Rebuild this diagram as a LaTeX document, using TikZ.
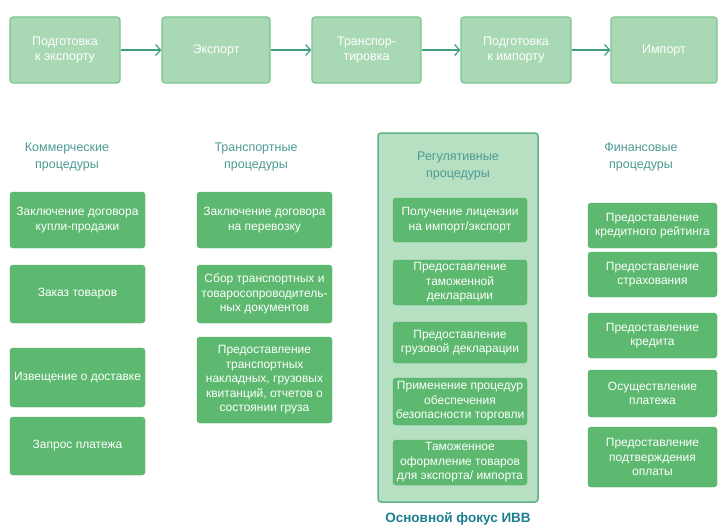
\documentclass[tikz,border=0pt]{standalone}
\usepackage{fontspec}
\setmainfont{Liberation Sans}
\usetikzlibrary{arrows.meta}
\definecolor{topfill}{HTML}{A9D9B4}
\definecolor{topdraw}{HTML}{7CC492}
\definecolor{boxfill}{HTML}{5CB96F}
\definecolor{boxdraw}{HTML}{58B06B}
\definecolor{regfill}{HTML}{B7E0C2}
\definecolor{regdraw}{HTML}{5FB187}
\definecolor{headtxt}{HTML}{4B9B94}
\definecolor{focustxt}{HTML}{1F7F8F}
\definecolor{arrowcol}{HTML}{3E9E80}
\tikzset{
  topbox/.style={draw=topdraw, line width=1.2pt, fill=topfill, rounded corners=3pt,
    minimum width=110pt, minimum height=66pt, inner sep=0pt, align=center,
    text=white, font=\fontsize{12.5}{15}\selectfont},
  procbox/.style={draw=boxdraw, fill=boxfill, rounded corners=3pt,
    inner sep=0pt, align=center, text=white, font=\fontsize{12}{14.5}\selectfont},
  headtext/.style={align=center, text=headtxt, font=\fontsize{12.5}{17}\selectfont, inner sep=0pt},
  flowarrow/.style={draw=arrowcol, line width=1.2pt, -{Straight Barb[length=5pt,width=11pt]}}
}
\begin{document}
\begin{tikzpicture}[x=1pt,y=-1pt]
\useasboundingbox[fill=white] (0,0) rectangle (718,527);
% top row
\node[topbox] (t1) at (65,50) {Подготовка\\к экспорту};
\node[topbox, minimum width=108pt] (t2) at (216,50) {Экспорт};
\node[topbox, minimum width=109pt] (t3) at (366.5,50) {Транспор-\\тировка};
\node[topbox] (t4) at (516,50) {Подготовка\\к импорту};
\node[topbox, minimum width=106pt] (t5) at (664,50) {Импорт};
\draw[flowarrow] (t1) -- (t2);
\draw[flowarrow] (t2) -- (t3);
\draw[flowarrow] (t3) -- (t4);
\draw[flowarrow] (t4) -- (t5);
% regulatory frame
\node[draw=regdraw, line width=1.5pt, fill=regfill, rounded corners=3pt,
  minimum width=160pt, minimum height=369pt, inner sep=0pt] (reg) at (458,317.5) {};
% headers
\node[headtext] (h1) at (67,156.5) {Коммерческие\\процедуры};
\node[headtext] (h2) at (256,156.5) {Транспортные\\процедуры};
\node[headtext] (h3) at (458,166) {Регулятивные\\процедуры};
\node[headtext] (h4) at (641,156.5) {Финансовые\\процедуры};
% commercial
\node[procbox, minimum width=135pt, minimum height=56pt] (c1) at (77.5,220) {Заключение договора\\купли-продажи};
\node[procbox, minimum width=135pt, minimum height=58pt] (c2) at (77.5,294) {Заказ товаров};
\node[procbox, minimum width=135pt, minimum height=59pt] (c3) at (77.5,377.5) {Извещение о доставке};
\node[procbox, minimum width=135pt, minimum height=58pt] (c4) at (77.5,446) {Запрос платежа};
% transport
\node[procbox, minimum width=135pt, minimum height=56pt] (p1) at (264.5,220) {Заключение договора\\на перевозку};
\node[procbox, minimum width=135pt, minimum height=58pt] (p2) at (264.5,294) {Сбор транспортных и\\товаросопроводитель-\\ных документов};
\node[procbox, minimum width=135pt, minimum height=86pt] (p3) at (264.5,380) {Предоставление\\транспортных\\накладных, грузовых\\квитанций, отчетов о\\состоянии груза};
% regulatory
\node[procbox, minimum width=134pt, minimum height=44pt] (r1) at (460,220) {Получение лицензии\\на импорт/экспорт};
\node[procbox, minimum width=134pt, minimum height=45pt] (r2) at (460,282.5) {Предоставление\\таможенной\\декларации};
\node[procbox, minimum width=134pt, minimum height=41pt] (r3) at (460,342.5) {Предоставление\\грузовой декларации};
\node[procbox, minimum width=134pt, minimum height=47pt] (r4) at (460,401.5) {Применение процедур\\обеспечения\\безопасности торговли};
\node[procbox, minimum width=134pt, minimum height=45pt] (r5) at (460,462.5) {Таможенное\\оформление товаров\\для экспорта/ импорта};
\node[text=focustxt, font=\fontsize{13.5}{15}\selectfont\bfseries, inner sep=0pt] (focus) at (458,519) {Основной фокус ИВВ};
% financial
\node[procbox, minimum width=129pt, minimum height=45pt] (f1) at (652.5,225.5) {Предоставление\\кредитного рейтинга};
\node[procbox, minimum width=129pt, minimum height=45pt] (f2) at (652.5,274.5) {Предоставление\\страхования};
\node[procbox, minimum width=129pt, minimum height=45pt] (f3) at (652.5,335.5) {Предоставление\\кредита};
\node[procbox, minimum width=129pt, minimum height=47pt] (f4) at (652.5,393.5) {Осуществление\\платежа};
\node[procbox, minimum width=129pt, minimum height=60pt] (f5) at (652.5,457) {Предоставление\\подтверждения\\оплаты};
\end{tikzpicture}
\end{document}
